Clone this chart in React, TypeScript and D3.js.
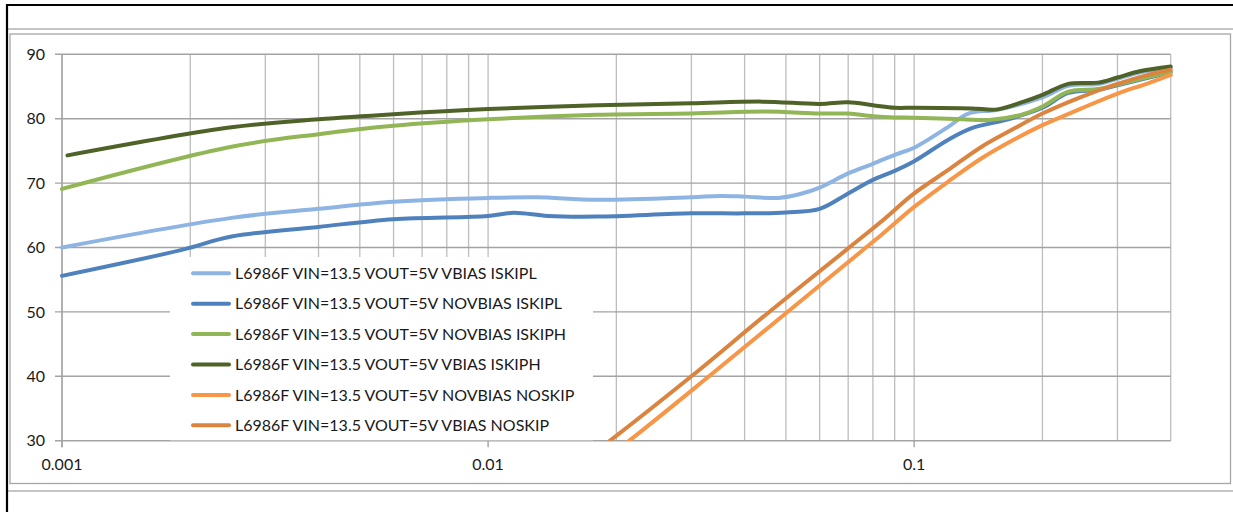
import * as d3 from "d3";
import { useEffect, useRef } from "react";

type Pt = [number, number];

const seriesNames = [
  "L6986F VIN=13.5 VOUT=5V VBIAS ISKIPL",
  "L6986F VIN=13.5 VOUT=5V NOVBIAS ISKIPL",
  "L6986F VIN=13.5 VOUT=5V NOVBIAS ISKIPH",
  "L6986F VIN=13.5 VOUT=5V VBIAS ISKIPH",
  "L6986F VIN=13.5 VOUT=5V NOVBIAS NOSKIP",
  "L6986F VIN=13.5 VOUT=5V VBIAS NOSKIP",
];

const seriesColors = ["#8EB4E3", "#4F81BD", "#92B655", "#4F6228", "#F79646", "#DB843F"];

// load current (A) vs efficiency (%)
const vbiasIskipl: Pt[] = [
  [0.001, 60.0], [0.0025, 64.6], [0.004, 66.0], [0.006, 67.1], [0.01, 67.7],
  [0.013, 67.8], [0.018, 67.4], [0.03, 67.8], [0.035, 68.0], [0.04, 67.9],
  [0.048, 67.7], [0.054, 68.3], [0.06, 69.3], [0.07, 71.5], [0.08, 73.0],
  [0.09, 74.4], [0.1, 75.5], [0.12, 78.7], [0.134, 80.8], [0.157, 81.4],
  [0.2, 83.3], [0.23, 85.1], [0.27, 85.4], [0.3, 86.2], [0.34, 87.2], [0.4, 87.9],
];

const novbiasIskipl: Pt[] = [
  [0.001, 55.6], [0.0019, 59.6], [0.0025, 61.7], [0.004, 63.2], [0.006, 64.4],
  [0.01, 64.9], [0.0115, 65.4], [0.0138, 64.9], [0.018, 64.8], [0.03, 65.3],
  [0.04, 65.3], [0.05, 65.45], [0.06, 66.0], [0.07, 68.4], [0.08, 70.5],
  [0.09, 71.9], [0.1, 73.4], [0.12, 76.7], [0.136, 78.5], [0.166, 79.9],
  [0.2, 81.7], [0.23, 84.0], [0.27, 84.5], [0.3, 85.2], [0.4, 87.2],
];

const novbiasIskiph: Pt[] = [
  [0.001, 69.1], [0.0025, 75.65], [0.004, 77.6], [0.006, 78.9], [0.01, 79.9],
  [0.018, 80.6], [0.03, 80.8], [0.045, 81.1], [0.06, 80.8], [0.07, 80.8],
  [0.08, 80.4], [0.09, 80.2], [0.1, 80.15], [0.13, 79.9], [0.15, 79.8],
  [0.178, 80.6], [0.2, 81.9], [0.23, 84.2], [0.27, 84.6], [0.3, 85.3], [0.4, 87.3],
];

const vbiasIskiph: Pt[] = [
  [0.00103, 74.3], [0.0025, 78.66], [0.004, 79.9], [0.006, 80.7], [0.01, 81.5],
  [0.018, 82.1], [0.03, 82.4], [0.044, 82.65], [0.06, 82.3], [0.07, 82.55],
  [0.08, 82.1], [0.09, 81.7], [0.1, 81.7], [0.136, 81.6], [0.157, 81.45],
  [0.18, 82.6], [0.2, 83.7], [0.23, 85.4], [0.27, 85.6], [0.3, 86.4],
  [0.34, 87.4], [0.4, 88.1],
];

const novbiasNoskip: Pt[] = [
  [0.015, 22.2], [0.0213, 29.85], [0.033, 40.0], [0.05, 49.8], [0.0758, 59.6],
  [0.0836, 61.9], [0.1, 66.3], [0.12, 70.2], [0.144, 73.85], [0.172, 76.8],
  [0.2, 79.0], [0.247, 81.6], [0.3, 83.9], [0.354, 85.5], [0.4, 86.8],
];

const vbiasNoskip: Pt[] = [
  [0.015, 24.5], [0.0192, 29.85], [0.03, 40.0], [0.0453, 49.8], [0.0692, 59.6],
  [0.0836, 64.0], [0.1, 68.4], [0.12, 72.0], [0.144, 75.65], [0.172, 78.5],
  [0.2, 80.8], [0.247, 83.4], [0.3, 85.4], [0.354, 86.8], [0.4, 87.6],
];

const allSeries = [vbiasIskipl, novbiasIskipl, novbiasIskiph, vbiasIskiph, novbiasNoskip, vbiasNoskip];

const yTicks = [30, 40, 50, 60, 70, 80, 90];
const xMajorTicks = [0.001, 0.01, 0.1];
const xTickLabels = ["0.001", "0.01", "0.1"];

const W = 1233;
const H = 512;
const FONT = "Lato, 'DejaVu Sans', sans-serif";

const App = () => {
  const ref = useRef<SVGSVGElement | null>(null);

  useEffect(() => {
    const svg = d3.select(ref.current).attr("width", W).attr("height", H);
    svg.selectAll("*").remove();

    const x = d3.scaleLog().domain([0.001, 0.4]).range([62, 1170.7]);
    const y = d3.scaleLinear().domain([30, 90]).range([440.7, 54.3]);

    svg.append("rect").attr("width", W).attr("height", H).attr("fill", "#fff");

    // page frame
    svg.append("line").attr("x1", 7).attr("x2", W).attr("y1", 5).attr("y2", 5)
      .attr("stroke", "#000").attr("stroke-width", 2.2);
    svg.append("line").attr("x1", 7).attr("x2", 7).attr("y1", 4).attr("y2", H)
      .attr("stroke", "#000").attr("stroke-width", 2.2);
    svg.append("line").attr("x1", 8).attr("x2", W).attr("y1", 29).attr("y2", 29)
      .attr("stroke", "#8c8c8c").attr("stroke-width", 1.2);
    svg.append("line").attr("x1", 8).attr("x2", W).attr("y1", 491).attr("y2", 491)
      .attr("stroke", "#8c8c8c").attr("stroke-width", 1.2);
    svg.append("rect").attr("x", 10).attr("y", 34).attr("width", 1220.5).attr("height", 449.5)
      .attr("fill", "none").attr("stroke", "#a6a6a6").attr("stroke-width", 1.3);

    const [x0, x1] = x.range();
    const [yb, yt] = y.range();

    // vertical grid
    const vTicks: number[] = [];
    for (const dec of [0.001, 0.01, 0.1]) {
      for (let m = 1; m <= 9; m++) {
        const v = +(dec * m).toPrecision(3);
        if (v <= 0.4 + 1e-9) vTicks.push(v);
      }
    }
    svg.append("g").selectAll("line").data(vTicks).join("line")
      .attr("x1", (d) => x(d)).attr("x2", (d) => x(d))
      .attr("y1", yt).attr("y2", yb)
      .attr("stroke", "#bdbdbd").attr("stroke-width", 1.3);

    // horizontal grid
    svg.append("g").selectAll("line").data(yTicks).join("line")
      .attr("x1", x0 - 7).attr("x2", x1)
      .attr("y1", (d) => y(d)).attr("y2", (d) => y(d))
      .attr("stroke", "#a3a3a3").attr("stroke-width", 1.4);

    // axes
    svg.append("line").attr("x1", x0).attr("x2", x0).attr("y1", yt).attr("y2", yb + 6.5)
      .attr("stroke", "#a3a3a3").attr("stroke-width", 1.4);
    svg.append("g").selectAll("line").data(xMajorTicks).join("line")
      .attr("x1", (d) => x(d)).attr("x2", (d) => x(d))
      .attr("y1", yb).attr("y2", yb + 6.5)
      .attr("stroke", "#a3a3a3").attr("stroke-width", 1.4);

    svg.append("g").selectAll("text").data(yTicks).join("text")
      .attr("x", 45).attr("y", (d) => y(d)).attr("dy", "0.36em")
      .attr("text-anchor", "end").attr("font-family", FONT).attr("font-size", 16)
      .attr("fill", "#1a1a1a").text((d) => d);

    svg.append("g").selectAll("text").data(xMajorTicks).join("text")
      .attr("x", (d) => x(d)).attr("y", 464.5).attr("dy", "0.36em")
      .attr("text-anchor", "middle").attr("font-family", FONT).attr("font-size", 16)
      .attr("fill", "#1a1a1a").text((_, i) => xTickLabels[i]);

    // legend background hides grid behind it
    svg.append("rect").attr("x", 170).attr("y", 257).attr("width", 423).attr("height", 183.3)
      .attr("fill", "#fff");

    svg.append("clipPath").attr("id", "plotClip").append("rect")
      .attr("x", x0 - 4).attr("y", yt - 6).attr("width", x1 - x0 + 8).attr("height", yb - yt + 6);

    const line = d3.line<Pt>()
      .x((d) => x(d[0]))
      .y((d) => y(d[1]))
      .curve(d3.curveCatmullRom.alpha(0.5));

    svg.append("g").attr("clip-path", "url(#plotClip)")
      .selectAll("path").data(allSeries).join("path")
      .attr("d", (d) => line(d))
      .attr("fill", "none")
      .attr("stroke", (_, i) => seriesColors[i])
      .attr("stroke-width", 4)
      .attr("stroke-linecap", "round")
      .attr("stroke-linejoin", "round");

    // legend
    const rowY = (i: number) => 273.3 + i * 30.4;
    const lg = svg.append("g");
    lg.selectAll("line").data(seriesNames).join("line")
      .attr("x1", 193).attr("x2", 229)
      .attr("y1", (_, i) => rowY(i)).attr("y2", (_, i) => rowY(i))
      .attr("stroke", (_, i) => seriesColors[i])
      .attr("stroke-width", 4).attr("stroke-linecap", "round");
    lg.selectAll("text").data(seriesNames).join("text")
      .attr("x", 235).attr("y", (_, i) => rowY(i)).attr("dy", "0.36em")
      .attr("font-family", FONT).attr("font-size", 16).attr("fill", "#1a1a1a")
      .text((d) => d);
  }, []);

  return (
    <svg ref={ref} style={{ position: "absolute", left: 0, top: 0, display: "block" }}></svg>
  );
};

export default App;
